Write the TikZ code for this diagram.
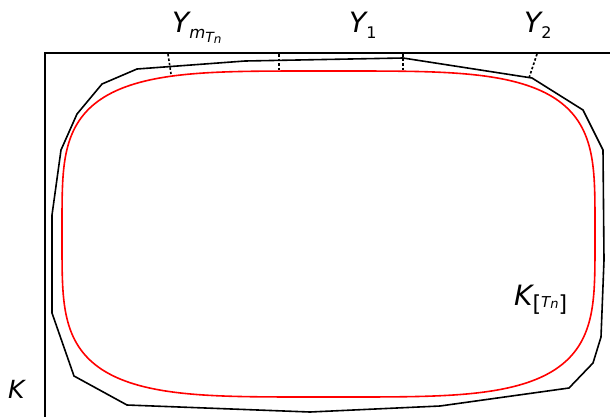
\documentclass[tikz,border=0pt]{standalone}
\usepackage{fontspec}
\newfontfamily\dv{DejaVu Sans}
\tikzset{
  frame/.style={line width=1.6pt, line cap=rect},
  poly/.style={line width=1.6pt, line join=miter},
  inner/.style={line width=1.6pt, red},
  dotsep/.style={line width=1.6pt, dash pattern=on 2.5pt off 2pt},
  lab/.style={inner sep=0pt, anchor=base west, font=\dv}
}
\newcommand{\fs}[1]{\fontsize{#1}{#1}\selectfont}
\begin{document}
\begin{tikzpicture}[x=1pt,y=-1pt]
\useasboundingbox (0,0) rectangle (610,416);
% frame of K
\coordinate (kl) at (45,416);
\coordinate (kc) at (45,53);
\coordinate (kr) at (612,53);
\draw[frame] (kl) -- (kc) -- (kr);
% polygon
\draw[poly] (137,69) -- (245,61) -- (403,58) -- (532,78) -- (583,110) -- (603,150)
  -- (604,260) -- (601,337) -- (593,363) -- (569,388) -- (440,406) -- (310,412)
  -- (127,405) -- (74,376) -- (52,313) -- (52,215) -- (61,150) -- (77,114) -- (102,84) -- cycle;
% red superellipse
\draw[inner] plot[domain=0:360, samples=721]
  ({328.5+266.5*sqrt(abs(cos(\x)))*ifthenelse(cos(\x)<0,-1,1)},
   {234-163*sqrt(abs(sin(\x)))*ifthenelse(sin(\x)<0,-1,1)}) -- cycle;
% dotted connectors
\coordinate (a1) at (168,54); \coordinate (b1) at (171,74);
\coordinate (a2) at (279,54); \coordinate (b2) at (279,71);
\coordinate (a3) at (403,54); \coordinate (b3) at (403,71);
\coordinate (a4) at (537,54); \coordinate (b4) at (529,78);
\draw[dotsep] (a1) -- (b1);
\draw[dotsep] (a2) -- (b2);
\draw[dotsep] (a3) -- (b3);
\draw[dotsep] (a4) -- (b4);
% labels
\node[lab] (ym) at (172,32) {\fs{28}\itshape Y\raisebox{-6pt}{\fs{16.5}m}\raisebox{-10pt}{\fs{14}T}\raisebox{-11pt}{\fs{12}n}};
\node[lab] (y1) at (349,32) {\fs{28}\itshape Y\raisebox{-6pt}{\fs{16}\upshape 1}};
\node[lab] (y2) at (524,32) {\fs{28}\itshape Y\raisebox{-6pt}{\fs{16}\upshape 2}};
\node[lab] (k) at (8,398) {\fs{25}\itshape K};
\node[lab] (kt) at (514,305) {\fs{28}\itshape K\raisebox{-6pt}{\fs{22}\upshape [}\raisebox{-2pt}{\fs{15}T}\raisebox{-3pt}{\fs{13}n}\raisebox{-6pt}{\fs{22}\upshape ]}};
\end{tikzpicture}
\end{document}
